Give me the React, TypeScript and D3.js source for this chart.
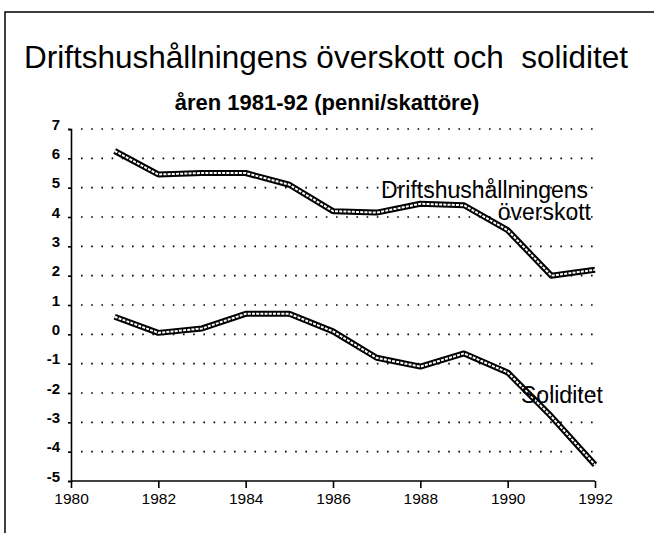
import { useEffect, useRef } from "react";
import * as d3 from "d3";

const years = [1981, 1982, 1983, 1984, 1985, 1986, 1987, 1988, 1989, 1990, 1991, 1992];
const overskott = [6.25, 5.45, 5.5, 5.5, 5.1, 4.2, 4.15, 4.45, 4.4, 3.55, 2.0, 2.2];
const soliditet = [0.6, 0.05, 0.2, 0.7, 0.7, 0.1, -0.8, -1.1, -0.65, -1.3, -2.8, -4.45];
const yTicks = [7, 6, 5, 4, 3, 2, 1, 0, -1, -2, -3, -4, -5];
const xTicks = [1980, 1982, 1984, 1986, 1988, 1990, 1992];

const FONT = "'Liberation Sans', Arial, Helvetica, sans-serif";

export default function App() {
  const svgRef = useRef<SVGSVGElement>(null);

  useEffect(() => {
    const svg = d3.select(svgRef.current);
    svg.selectAll("*").remove();

    const width = 654;
    const height = 533;
    const x = d3.scaleLinear().domain([1980, 1992]).range([71, 595]);
    const y = d3.scaleLinear().domain([-5, 7]).range([481, 129]);

    svg.attr("width", width).attr("height", height).style("font-family", FONT);

    svg.append("rect").attr("width", width).attr("height", height).attr("fill", "#fff");

    // frame (top and left edges only)
    svg.append("path")
      .attr("d", `M5,${height}V12H${width}`)
      .attr("fill", "none")
      .attr("stroke", "#000")
      .attr("stroke-width", 1.5);

    // titles
    svg.append("text")
      .attr("x", 326).attr("y", 68)
      .attr("text-anchor", "middle")
      .style("font-size", "31.5px")
      .style("white-space", "pre")
      .text("Driftshushållningens överskott och  soliditet");

    svg.append("text")
      .attr("x", 327).attr("y", 110)
      .attr("text-anchor", "middle")
      .style("font-size", "22px")
      .attr("font-weight", "bold")
      .text("åren 1981-92 (penni/skattöre)");

    // dotted grid
    svg.append("g")
      .selectAll("line")
      .data(yTicks.filter(d => d > -5))
      .enter()
      .append("line")
      .attr("x1", 81).attr("x2", 596)
      .attr("y1", d => y(d)).attr("y2", d => y(d))
      .attr("stroke", "#000")
      .attr("stroke-width", 1.6)
      .attr("stroke-dasharray", "1.6 8.6");

    // axes
    const yAxis = svg.append("g")
      .attr("transform", `translate(${x(1980)},0)`)
      .call(d3.axisLeft(y).tickValues(yTicks).tickSize(3).tickPadding(10).tickFormat(d => String(d)));
    yAxis.select(".domain").attr("stroke-width", 1.6);
    yAxis.selectAll(".tick line").attr("stroke-width", 1.6);
    yAxis.selectAll(".tick text")
      .style("font-family", FONT)
      .style("font-size", "15px")
      .attr("font-weight", "bold")
      .attr("dy", "0.02em")
      .attr("x", -11);

    const xAxis = svg.append("g")
      .attr("transform", `translate(0,${y(-5)})`)
      .call(d3.axisBottom(x).tickValues(xTicks).tickSize(7).tickPadding(10).tickFormat(d => String(d)));
    xAxis.select(".domain").attr("stroke-width", 1.6).attr("d", `M${x(1980)},0H${x(1992)}`);
    xAxis.selectAll(".tick line").attr("stroke-width", 1.6);
    xAxis.selectAll(".tick text")
      .style("font-family", FONT)
      .style("font-size", "15.5px")
      .attr("y", 12)
      .attr("dy", "0.71em");

    // double lines
    const line = d3.line<number>()
      .x((_, i) => x(years[i]))
      .y(d => y(d));

    [overskott, soliditet].forEach(series => {
      svg.append("path")
        .attr("d", line(series))
        .attr("fill", "none")
        .attr("stroke", "#000")
        .attr("stroke-width", 6)
        .attr("stroke-linejoin", "round");
      svg.append("path")
        .attr("d", line(series))
        .attr("fill", "none")
        .attr("stroke", "#fff")
        .attr("stroke-width", 2)
        .attr("stroke-dasharray", "3 1.2");
    });

    // labels
    svg.append("text")
      .attr("x", 381).attr("y", 198)
      .style("font-size", "23px")
      .text("Driftshushållningens");
    svg.append("text")
      .attr("x", 591).attr("y", 220)
      .attr("text-anchor", "end")
      .style("font-size", "23px")
      .text("överskott");
    svg.append("text")
      .attr("x", 521).attr("y", 403)
      .style("font-size", "23px")
      .text("Soliditet");
  }, []);

  return <svg ref={svgRef} style={{ position: "absolute", left: 0, top: 0 }} />;
}
